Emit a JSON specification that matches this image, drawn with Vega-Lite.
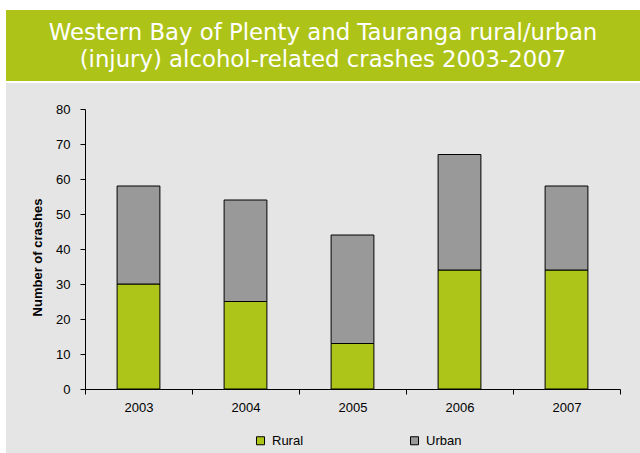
{
  "$schema": "https://vega.github.io/schema/vega-lite/v6.json",
  "background": "#e5e5e5",
  "padding": 0,
  "spacing": 0,
  "config": {
    "view": {"stroke": null},
    "font": "Liberation Sans"
  },
  "hconcat": [
    {
      "width": 6,
      "height": 453,
      "view": {"fill": "white", "stroke": null},
      "data": {"values": []},
      "mark": "point"
    },
    {
      "spacing": 0,
      "vconcat": [
        {
          "width": 634,
          "height": 10,
          "view": {"fill": "white", "stroke": null},
          "data": {"values": []},
          "mark": "point"
        },
        {
          "width": 634,
          "height": 71,
          "view": {"fill": "#adc318", "stroke": null},
          "data": {"values": [{"title": ["Western Bay of Plenty and Tauranga rural/urban", "(injury) alcohol-related crashes 2003-2007"]}]},
          "mark": {"type": "text", "font": "DejaVu Sans", "fontSize": 22.8, "color": "white", "lineHeight": 27, "baseline": "middle", "align": "center", "dy": -12.5},
          "encoding": {"text": {"field": "title", "type": "nominal"}}
        },
        {
          "width": 634,
          "height": 2,
          "view": {"fill": "white", "stroke": null},
          "data": {"values": []},
          "mark": "point"
        },
        {
          "width": 634,
          "height": 20,
          "data": {"values": []},
          "mark": "point"
        },
        {
          "spacing": 0,
          "hconcat": [
            {
              "width": 25,
              "height": 1,
              "data": {"values": []},
              "mark": "point"
            },
            {
              "width": 535,
              "height": 280,
              "data": {"values": [
                {"year": "2003", "type": "Rural", "crashes": 30},
                {"year": "2003", "type": "Urban", "crashes": 28},
                {"year": "2004", "type": "Rural", "crashes": 25},
                {"year": "2004", "type": "Urban", "crashes": 29},
                {"year": "2005", "type": "Rural", "crashes": 13},
                {"year": "2005", "type": "Urban", "crashes": 31},
                {"year": "2006", "type": "Rural", "crashes": 34},
                {"year": "2006", "type": "Urban", "crashes": 33},
                {"year": "2007", "type": "Rural", "crashes": 34},
                {"year": "2007", "type": "Urban", "crashes": 24}
              ]},
              "mark": {"type": "bar", "stroke": "black", "strokeWidth": 1, "width": {"band": 0.4}},
              "encoding": {
                "x": {
                  "field": "year",
                  "type": "ordinal",
                  "scale": {"paddingInner": 0, "paddingOuter": 0},
                  "axis": {
                    "title": null,
                    "labelAngle": 0,
                    "tickBand": "extent",
                    "tickSize": 5,
                    "labelPadding": 7,
                    "labelFontSize": 13,
                    "labelColor": "black",
                    "domainColor": "black",
                    "tickColor": "black"
                  }
                },
                "y": {
                  "field": "crashes",
                  "type": "quantitative",
                  "aggregate": "sum",
                  "stack": "zero",
                  "scale": {"domain": [0, 80], "nice": false},
                  "axis": {
                    "title": "Number of crashes",
                    "titleFontSize": 13,
                    "titleFontWeight": "bold",
                    "titleColor": "black",
                    "titlePadding": 11,
                    "titleY": 148,
                    "values": [0, 10, 20, 30, 40, 50, 60, 70, 80],
                    "grid": false,
                    "tickSize": 5,
                    "labelPadding": 10,
                    "labelFontSize": 13,
                    "labelColor": "black",
                    "domainColor": "black",
                    "tickColor": "black"
                  }
                },
                "color": {
                  "field": "type",
                  "type": "nominal",
                  "scale": {"domain": ["Rural", "Urban"], "range": ["#adc418", "#999999"]},
                  "legend": {
                    "title": null,
                    "orient": "none",
                    "legendX": 254,
                    "legendY": 434,
                    "direction": "horizontal",
                    "symbolType": "square",
                    "symbolSize": 64,
                    "symbolOpacity": 1,
                    "symbolStrokeColor": "black",
                    "symbolStrokeWidth": 1,
                    "labelFont": "Liberation Sans",
                    "labelFontSize": 13,
                    "labelColor": "black",
                    "labelOffset": 5,
                    "columnPadding": 104
                  }
                },
                "order": {"field": "type", "sort": "ascending"}
              }
            }
          ]
        }
      ]
    }
  ]
}
